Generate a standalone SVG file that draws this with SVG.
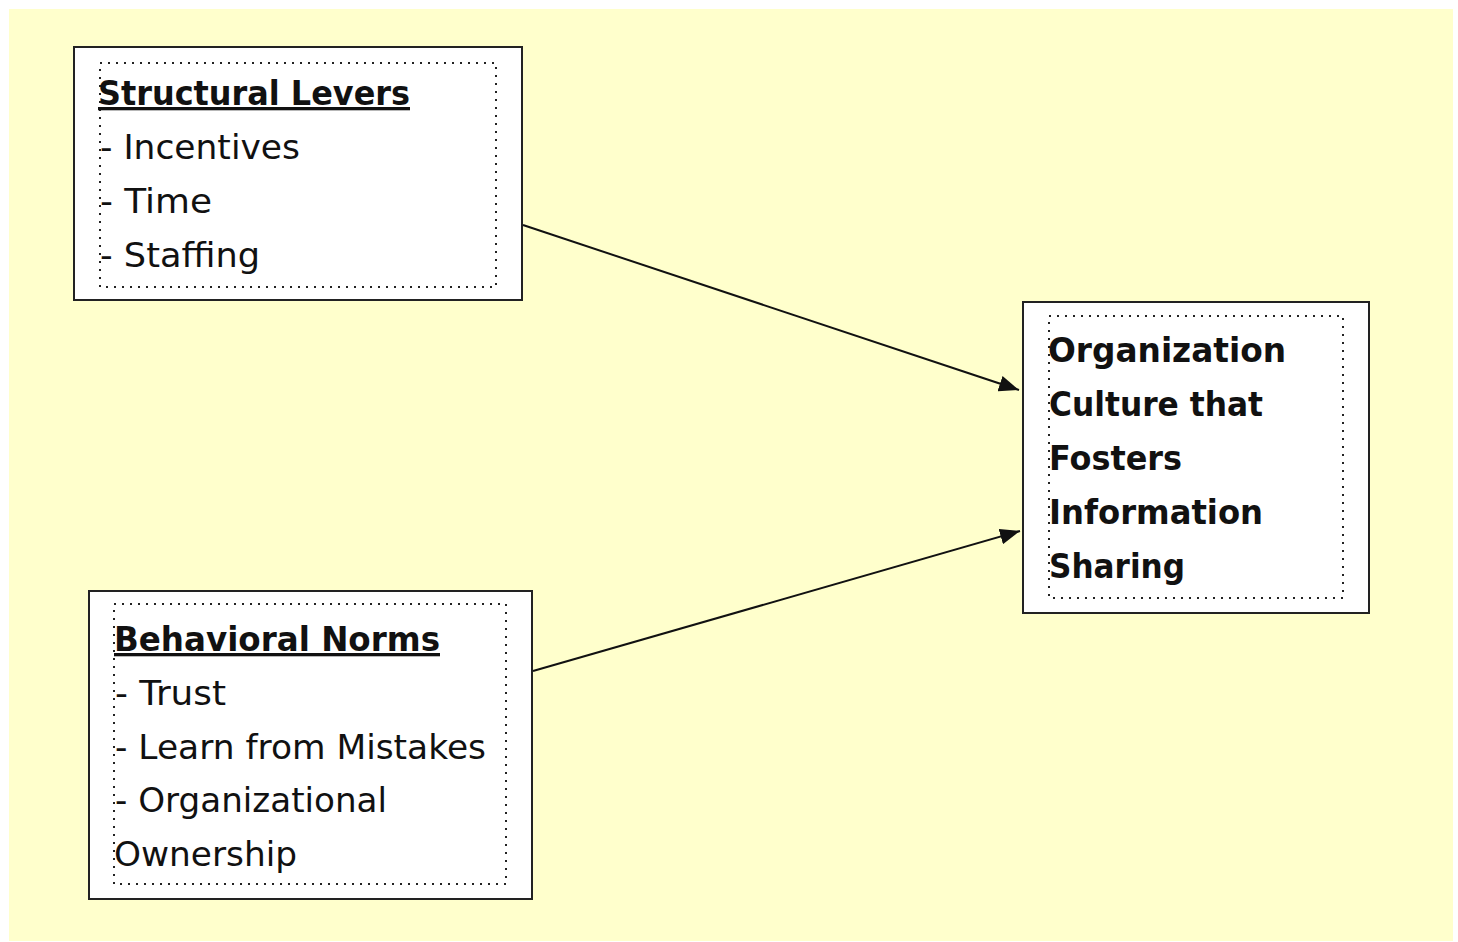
<svg xmlns="http://www.w3.org/2000/svg" width="1458" height="942" viewBox="0 0 1458 942">
<defs>
<style>
.outer{fill:#ffffff;stroke:#222222;stroke-width:2}
.inner{fill:none;stroke:#222222;stroke-width:2;stroke-dasharray:2 6}
.t{font-family:"DejaVu Sans","Liberation Sans",sans-serif;font-size:33px;fill:#111111}
.b{font-weight:bold}
.u{text-decoration:underline}
.conn{stroke:#111111;stroke-width:2;fill:none}
</style>
<marker id="ah" viewBox="0 0 20 16" refX="20" refY="8" markerWidth="20" markerHeight="16" markerUnits="userSpaceOnUse" orient="auto">
<path d="M0,0 L20,8 L0,16 z" fill="#111111"/>
</marker>
</defs>
<rect x="9" y="9" width="1444" height="932" fill="#ffffcc"/>
<g id="connectors">
<line class="conn" x1="523" y1="225" x2="1019" y2="390" marker-end="url(#ah)"/>
<line class="conn" x1="533" y1="671" x2="1020" y2="531" marker-end="url(#ah)"/>
</g>
<g id="structural-levers">
<rect class="outer" x="74" y="47" width="448" height="253"/>
<rect class="inner" x="100" y="63" width="396" height="224"/>
<text class="t b u" x="98" y="105" textLength="312" lengthAdjust="spacingAndGlyphs">Structural Levers</text>
<text class="t" x="100" y="159" textLength="200" lengthAdjust="spacingAndGlyphs">- Incentives</text>
<text class="t" x="100" y="213" textLength="112" lengthAdjust="spacingAndGlyphs">- Time</text>
<text class="t" x="100" y="267" textLength="160" lengthAdjust="spacingAndGlyphs">- Staffing</text>
</g>
<g id="behavioral-norms">
<rect class="outer" x="89" y="591" width="443" height="308"/>
<rect class="inner" x="114" y="604" width="392" height="280"/>
<text class="t b u" x="114" y="651" textLength="326" lengthAdjust="spacingAndGlyphs">Behavioral Norms</text>
<text class="t" x="115" y="705" textLength="111" lengthAdjust="spacingAndGlyphs">- Trust</text>
<text class="t" x="115" y="759" textLength="371" lengthAdjust="spacingAndGlyphs">- Learn from Mistakes</text>
<text class="t" x="115" y="812" textLength="272" lengthAdjust="spacingAndGlyphs">- Organizational</text>
<text class="t" x="114" y="866" textLength="183" lengthAdjust="spacingAndGlyphs">Ownership</text>
</g>
<g id="organization-culture">
<rect class="outer" x="1023" y="302" width="346" height="311"/>
<rect class="inner" x="1049" y="316" width="294" height="282"/>
<text class="t b" x="1048" y="362" textLength="238" lengthAdjust="spacingAndGlyphs">Organization</text>
<text class="t b" x="1049" y="416" textLength="214" lengthAdjust="spacingAndGlyphs">Culture that</text>
<text class="t b" x="1049" y="470" textLength="133" lengthAdjust="spacingAndGlyphs">Fosters</text>
<text class="t b" x="1049" y="524" textLength="214" lengthAdjust="spacingAndGlyphs">Information</text>
<text class="t b" x="1049" y="578" textLength="136" lengthAdjust="spacingAndGlyphs">Sharing</text>
</g>
</svg>
